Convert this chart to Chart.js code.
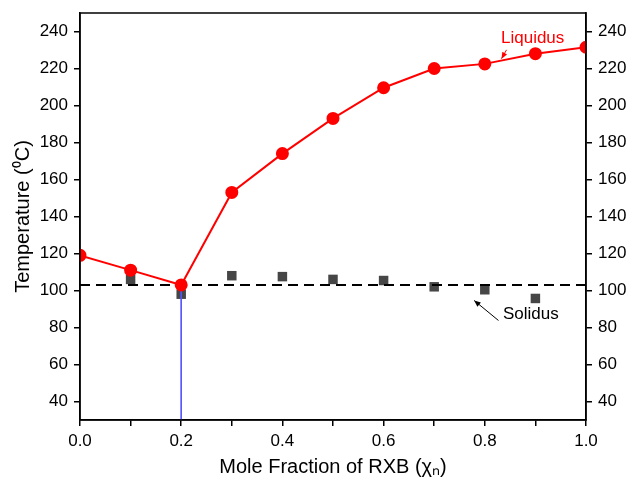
<!DOCTYPE html>
<html>
<head>
<meta charset="utf-8">
<script src="https://cdn.jsdelivr.net/npm/chart.js@4/dist/chart.umd.min.js"></script>
<style>
  html, body { margin: 0; padding: 0; background: #fff; }
  #wrap { width: 630px; height: 479px; }
</style>
</head>
<body>
<div id="wrap"><canvas id="c"></canvas></div>
<script>
const FONT = "'Liberation Sans', Arial, sans-serif";

// mole fraction of RXB
const fractions = [0.0, 0.1, 0.2, 0.3, 0.4, 0.5, 0.6, 0.7, 0.8, 0.9, 1.0];
const liquidus = [119, 111, 103, 153, 174, 193, 209.6, 220, 222.5, 228, 231.5];

const solidFractions = [0.1, 0.2, 0.3, 0.4, 0.5, 0.6, 0.7, 0.8, 0.9];
const solidus = [106, 98, 108, 107.5, 106, 105.4, 102, 100.4, 95.7];

const solidusLevel = 103;
const eutecticX = 0.2;

const yTicks = [40, 60, 80, 100, 120, 140, 160, 180, 200, 220, 240];
const xLabels = [0.0, 0.2, 0.4, 0.6, 0.8, 1.0];

// annotation anchors, data units
const notes = [
  { text: "Liquidus", color: "#ff0000", x: 0.832, y: 236.2, from: [0.843, 230.1], to: [0.833, 225.3] },
  { text: "Solidus", color: "#000000", x: 0.836, y: 86.9, from: [0.827, 83.8], to: [0.779, 94.6] }
];

const annotate = {
  id: "annotate",
  afterDatasetsDraw(chart) {
    const { ctx, chartArea: a, scales: { x, y } } = chart;
    ctx.save();
    // frame
    ctx.strokeStyle = "#000";
    ctx.lineWidth = 1.5;
    ctx.strokeRect(a.left, a.top, a.right - a.left, a.bottom - a.top);

    notes.forEach(n => {
      ctx.fillStyle = n.color;
      ctx.strokeStyle = n.color;
      ctx.font = "17px " + FONT;
      ctx.textBaseline = "middle";
      ctx.textAlign = "left";
      ctx.fillText(n.text, x.getPixelForValue(n.x), y.getPixelForValue(n.y));

      const x0 = x.getPixelForValue(n.from[0]), y0 = y.getPixelForValue(n.from[1]);
      const x1 = x.getPixelForValue(n.to[0]), y1 = y.getPixelForValue(n.to[1]);
      ctx.lineWidth = 1;
      ctx.beginPath();
      ctx.moveTo(x0, y0);
      ctx.lineTo(x1, y1);
      ctx.stroke();
      const ang = Math.atan2(y1 - y0, x1 - x0);
      const len = 7, w = 0.4;
      ctx.beginPath();
      ctx.moveTo(x1, y1);
      ctx.lineTo(x1 - len * Math.cos(ang - w), y1 - len * Math.sin(ang - w));
      ctx.lineTo(x1 - len * Math.cos(ang + w), y1 - len * Math.sin(ang + w));
      ctx.closePath();
      ctx.fill();
    });
    ctx.restore();
  }
};

const setYTicks = scale => {
  scale.ticks = yTicks.map(v => ({ value: v }));
};

// fixed box sizes so the plot area sits where the reference has it
const fitY = w => s => {
  s.width = w;
  s.paddingTop = 0;
  s.paddingBottom = 0;
};

new Chart(document.getElementById("c").getContext("2d"), {
  type: "scatter",
  data: {
    datasets: [
      {
        label: "Liquidus",
        data: fractions.map((f, i) => ({ x: f, y: liquidus[i] })),
        showLine: true,
        borderColor: "#ff0000",
        backgroundColor: "#ff0000",
        borderWidth: 2,
        pointRadius: 5.5,
        pointStyle: "circle"
      }, {
        label: "eutectic",
        data: [{ x: eutecticX, y: solidusLevel }, { x: eutecticX, y: 30 }],
        showLine: true,
        borderColor: "#5555ff",
        borderWidth: 1,
        pointRadius: 0
      }, {
        label: "solidus line",
        data: [{ x: 0, y: solidusLevel }, { x: 1, y: solidusLevel }],
        showLine: true,
        borderColor: "#000",
        borderWidth: 2,
        borderDash: [10, 6],
        pointRadius: 0
      }, {
        label: "Solidus",
        data: solidFractions.map((f, i) => ({ x: f, y: solidus[i] })),
        showLine: false,
        backgroundColor: "#464646",
        borderColor: "#464646",
        borderWidth: 0,
        pointRadius: 6.7,
        pointStyle: "rect"
      }
    ]
  },
  options: {
    responsive: true,
    maintainAspectRatio: false,
    animation: false,
    layout: { padding: { top: 13, left: 0, right: 0, bottom: 0 } },
    plugins: {
      legend: { display: false },
      tooltip: { enabled: false }
    },
    scales: {
      x: {
        type: "linear",
        position: "bottom",
        min: 0,
        max: 1,
        afterFit: s => { s.height = 59; },
        grid: { drawOnChartArea: false, tickLength: 6, color: "#000", lineWidth: 1.5 },
        border: { display: true, color: "#000", width: 1.5 },
        ticks: {
          stepSize: 0.1,
          autoSkip: false,
          maxRotation: 0,
          padding: 5,
          color: "#000",
          font: { family: FONT, size: 17 },
          callback: v => xLabels.some(l => Math.abs(l - v) < 1e-6) ? v.toFixed(1) : ""
        },
        title: {
          display: true,
          text: "Mole Fraction of RXB (χₙ)",
          color: "#000",
          font: { family: FONT, size: 20 },
          padding: { top: 0, bottom: 0 }
        }
      },
      y: {
        position: "left",
        min: 30,
        max: 250,
        afterBuildTicks: setYTicks,
        afterFit: fitY(80),
        grid: { drawOnChartArea: false, tickLength: 6, color: "#000", lineWidth: 1.5 },
        border: { display: true, color: "#000", width: 1.5 },
        ticks: {
          padding: 6,
          color: "#000",
          font: { family: FONT, size: 17 }
        },
        title: {
          display: true,
          text: "Temperature (⁰C)",
          color: "#000",
          font: { family: FONT, size: 20 },
          padding: { top: 11, bottom: 0 }
        }
      },
      y2: {
        position: "right",
        min: 30,
        max: 250,
        afterBuildTicks: setYTicks,
        afterFit: fitY(44),
        grid: { drawOnChartArea: false, tickLength: 6, color: "#000", lineWidth: 1.5 },
        border: { display: true, color: "#000", width: 1.5 },
        ticks: {
          padding: 6,
          color: "#000",
          font: { family: FONT, size: 17 }
        }
      }
    }
  },
  plugins: [annotate]
});
</script>
</body>
</html>
